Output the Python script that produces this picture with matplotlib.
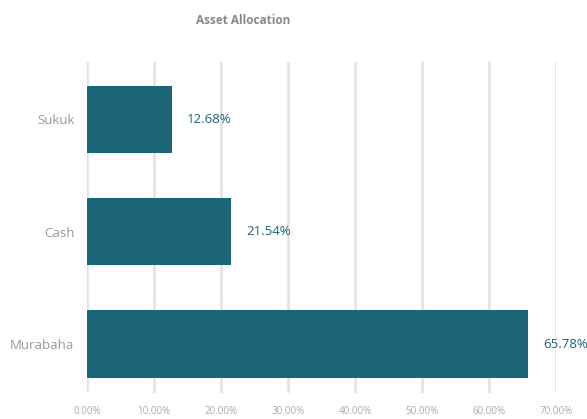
import matplotlib.pyplot as plt
from matplotlib.ticker import FuncFormatter

# データ
categories = ['Murabaha', 'Cash', 'Sukuk']
values = [65.78, 21.54, 12.68]
xticks = [0, 10, 20, 30, 40, 50, 60, 70]

plt.rcParams['font.family'] = ['Open Sans', 'DejaVu Sans']

fig = plt.figure(figsize=(5.87, 4.19), dpi=100)
ax = fig.add_axes([87 / 587, (419 - 393) / 419, (556 - 87) / 587, (393 - 62) / 419])

bar_color = '#1b6576'
ypos = list(range(len(categories)))
ax.barh(ypos, values, height=0.6, color=bar_color, zorder=3)

for y, v in zip(ypos, values):
    ax.annotate('{:.2f}%'.format(v), xy=(v, y), xytext=(11, 0), textcoords='offset points',
                va='center', ha='left', color=bar_color, fontsize=9.5)

ax.set_xlim(0, 70)
ax.set_ylim(-0.435, 2.51)
ax.set_xticks(xticks)
ax.xaxis.set_major_formatter(FuncFormatter(lambda x, p: '{:.2f}%'.format(x)))
ax.set_yticks(ypos)
ax.set_yticklabels(categories)

ax.grid(axis='x', color='#e3e3e3', linewidth=2, zorder=0)
for s in ax.spines.values():
    s.set_visible(False)
ax.tick_params(axis='x', length=0, pad=9, labelsize=7, labelcolor='#aaaaaa')
ax.tick_params(axis='y', length=0, pad=9, labelsize=9.5, labelcolor='#999999')

fig.text(243 / 587, 1 - 20 / 419, 'Asset Allocation', ha='center', va='center',
         fontsize=8.5, fontweight='bold', color='#888888')

fig.savefig('out.png', dpi=100)
